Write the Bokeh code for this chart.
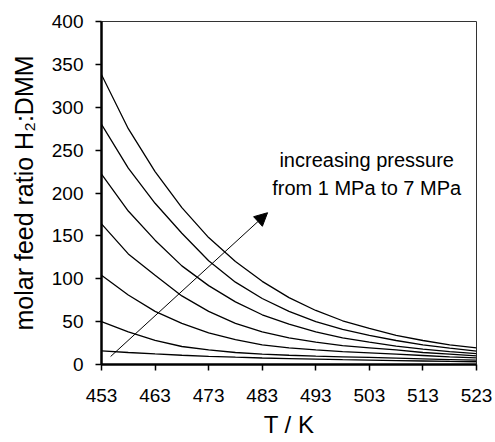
from bokeh.plotting import figure
from bokeh.models import FixedTicker, Arrow, NormalHead, Label, Range1d
from bokeh.embed import file_html
from bokeh.resources import INLINE

# ---- data ----
T_K = [453, 458, 463, 468, 473, 478, 483, 488, 493, 498, 503, 508, 513, 518, 523]

ratio_1MPa = [16.0, 14.0, 12.3, 10.8, 9.5, 8.5, 7.6, 6.9, 6.2, 5.6, 5.1, 4.6, 4.1, 3.6, 3.2]
ratio_2MPa = [50, 38, 28, 21, 17, 14, 12, 10.8, 9.8, 9.0, 8.2, 7.4, 6.6, 5.8, 5.0]
ratio_3MPa = [104, 81, 62, 48, 37, 29, 23, 19.5, 17, 15, 13.5, 12, 10.5, 9, 7.7]
ratio_4MPa = [164, 129, 104, 80, 62, 48, 38, 31, 26, 22, 19.5, 17, 14, 12, 10]
ratio_5MPa = [222, 179, 145, 115, 92, 73, 58, 47, 38, 31, 26, 21.5, 18, 15, 12.8]
ratio_6MPa = [280, 229, 188, 153, 121, 96, 77, 62, 50, 41, 34, 28, 23, 19, 15.7]
ratio_7MPa = [338, 275, 225, 183, 148, 120, 97, 78, 63, 51, 42, 34, 28, 23, 19.5]

series = [ratio_1MPa, ratio_2MPa, ratio_3MPa, ratio_4MPa, ratio_5MPa, ratio_6MPa, ratio_7MPa]

x_ticks = [453, 463, 473, 483, 493, 503, 513, 523]
y_ticks = [0, 50, 100, 150, 200, 250, 300, 350, 400]

x_title = "T / K"
y_title = "molar feed ratio H\u2082:DMM"

note_lines = ["increasing pressure", "from 1 MPa to 7 MPa"]
note_x = 502.5
note_y = [238, 206]

arrow_start = (454.7, 9.3)
arrow_end = (484.0, 177.0)

FONT = "Liberation Sans"
W, H = 495, 442

p = figure(width=W, height=H, output_backend="svg", toolbar_location=None,
           x_range=Range1d(453, 523), y_range=Range1d(0, 400),
           min_border_left=101, min_border_right=19, min_border_top=21,
           min_border_bottom=78)

p.xgrid.visible = False
p.ygrid.visible = False
p.outline_line_color = "#333333"
p.outline_line_width = 1
p.background_fill_color = "white"
p.border_fill_color = "white"

for ys in series:
    p.line(T_K, ys, line_color="black", line_width=1.3)

arrow = Arrow(x_start=arrow_start[0], y_start=arrow_start[1],
              x_end=arrow_end[0], y_end=arrow_end[1],
              line_color="black", line_width=1,
              end=NormalHead(size=13, fill_color="black", line_color="black"))
p.add_layout(arrow)

for txt, yy in zip(note_lines, note_y):
    p.add_layout(Label(x=note_x, y=yy, text=txt, text_align="center",
                       text_baseline="middle", text_font=FONT,
                       text_font_size="20px", text_color="black"))

for ax in (p.xaxis[0], p.yaxis[0]):
    ax.axis_line_color = "black"
    ax.axis_line_width = 2.5
    ax.major_tick_line_color = "black"
    ax.major_tick_line_width = 1.5
    ax.major_tick_in = 0
    ax.major_tick_out = 6
    ax.minor_tick_line_color = None
    ax.major_label_text_font = FONT
    ax.major_label_text_font_size = "19px"
    ax.major_label_text_color = "black"
    ax.axis_label_text_font = FONT
    ax.axis_label_text_font_style = "normal"
    ax.axis_label_text_color = "black"

p.xaxis.ticker = FixedTicker(ticks=x_ticks)
p.yaxis.ticker = FixedTicker(ticks=y_ticks)
p.xaxis.major_label_standoff = 18
p.yaxis.major_label_standoff = 12

p.xaxis.axis_label = x_title
p.xaxis.axis_label_text_font_size = "24px"
p.xaxis.axis_label_standoff = 6

p.yaxis.axis_label = y_title
p.yaxis.axis_label_text_font_size = "25px"
p.yaxis.axis_label_standoff = 11

open("out.html", "w").write(file_html(p, INLINE))
